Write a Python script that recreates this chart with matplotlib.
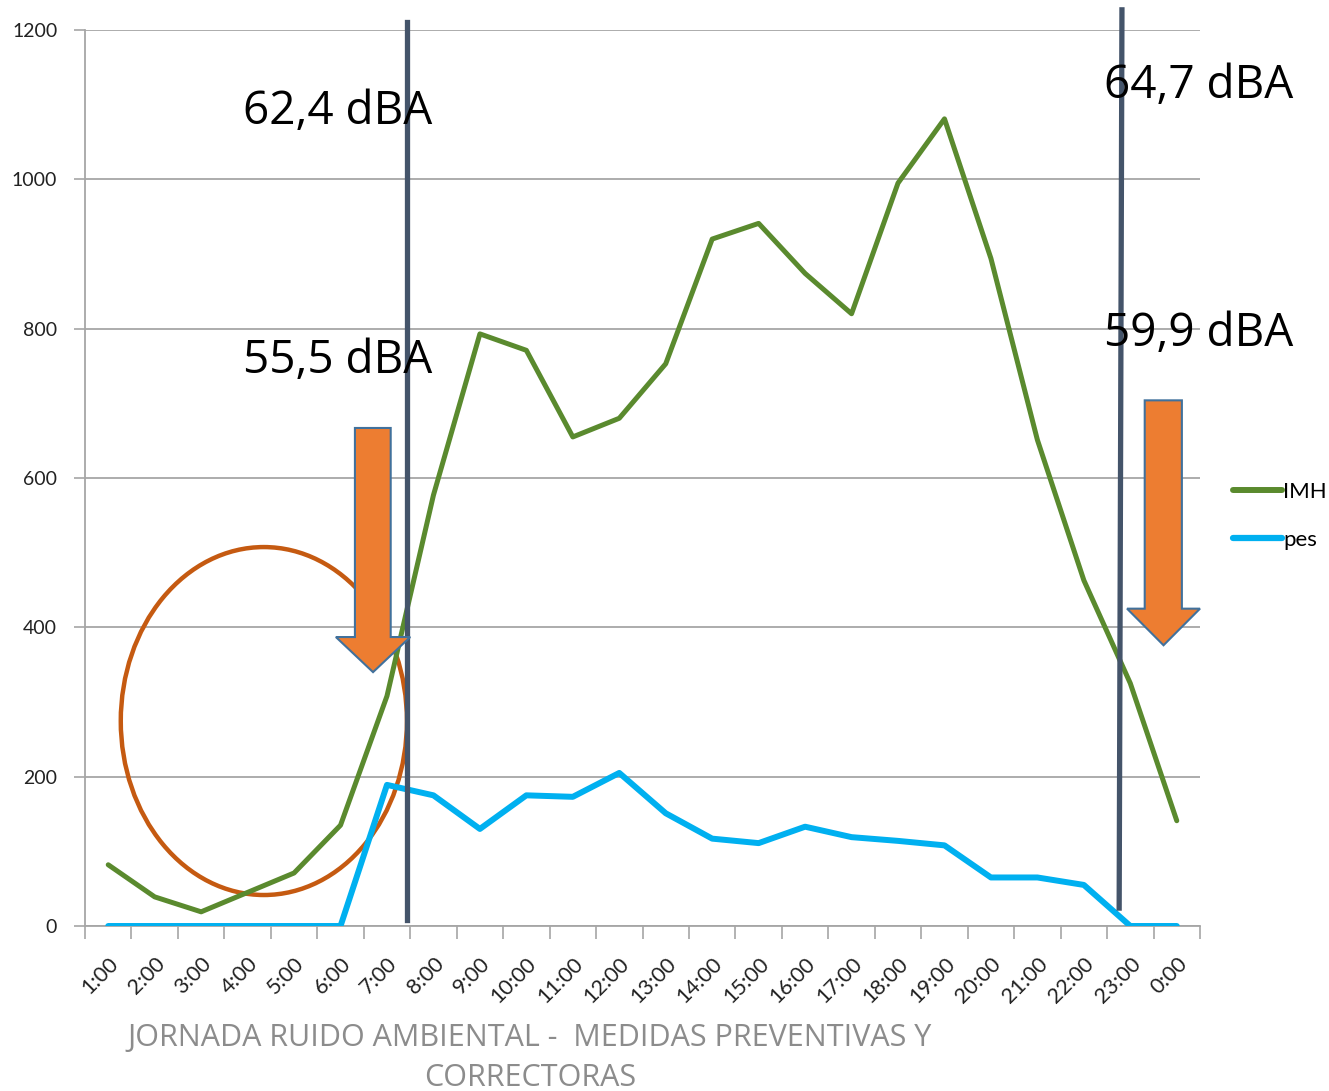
import matplotlib
matplotlib.use("Agg")
import matplotlib.pyplot as plt
from matplotlib.patches import Polygon, Ellipse
from matplotlib.lines import Line2D

hours = ["1:00", "2:00", "3:00", "4:00", "5:00", "6:00", "7:00", "8:00", "9:00",
         "10:00", "11:00", "12:00", "13:00", "14:00", "15:00", "16:00", "17:00",
         "18:00", "19:00", "20:00", "21:00", "22:00", "23:00", "0:00"]
imh = [82, 39, 19, 45, 71, 135, 308, 577, 793, 771, 655, 680, 753, 920, 941,
       874, 820, 995, 1081, 894, 651, 463, 325, 141]
pes = [0, 0, 0, 0, 0, 0, 189, 175, 130, 175, 173, 205, 151, 117, 111, 133,
       119, 114, 108, 65, 65, 55, 0, 0]
y_ticks = [0, 200, 400, 600, 800, 1000, 1200]
level_labels = ["62,4 dBA", "55,5 dBA", "64,7 dBA", "59,9 dBA"]
footer = "JORNADA RUIDO AMBIENTAL -  MEDIDAS PREVENTIVAS Y\nCORRECTORAS"

plt.rcParams['font.family'] = ['Lato', 'DejaVu Sans']

W, H = 1329, 1091
fig = plt.figure(figsize=(W / 100, H / 100), dpi=100)
ax = fig.add_axes([85 / W, 1 - 926 / H, (1200 - 85) / W, (926 - 30) / H])

x = list(range(len(hours)))
green = "#5a8a2e"
blue = "#00b0f0"
grid_c = "#a6a6a6"

ax.plot(x, imh, color=green, lw=3.6, solid_joinstyle="round",
        solid_capstyle="round", zorder=4, label="IMH")
ax.plot(x, pes, color=blue, lw=4.3, solid_joinstyle="round",
        solid_capstyle="round", zorder=4, label="pes")

ax.set_xlim(-0.5, len(hours) - 0.5)
ax.set_ylim(0, 1200)
ax.set_yticks(y_ticks)
ax.set_yticklabels([str(v) for v in y_ticks], fontsize=14, color="#222222")
ax.set_xticks([i - 0.5 for i in range(len(hours) + 1)], minor=False)
ax.set_xticklabels([])
ax.set_xticks(x, minor=True)
ax.set_xticklabels(hours, minor=True, rotation=45, ha="right", va="top",
                   rotation_mode="anchor", fontsize=15.5, color="#222222")
ax.tick_params(axis="x", which="minor", length=0, pad=20)
ax.tick_params(axis="x", which="major", length=9, color=grid_c, width=1.2)
ax.tick_params(axis="y", length=8, color=grid_c, width=1.2, pad=12)

ax.grid(axis="y", color=grid_c, lw=1.3)
ax.set_axisbelow(True)
for side in ["top", "right"]:
    ax.spines[side].set_visible(False)
for side in ["left", "bottom"]:
    ax.spines[side].set_color(grid_c)
    ax.spines[side].set_linewidth(1.3)

# Period separators (day / night boundaries)
sep_c = "#44546a"
ax.plot([6.43, 6.43], [8, 1211], color=sep_c, lw=3.8, clip_on=False, zorder=5)
ax.plot([21.76, 21.82], [24, 1227], color=sep_c, lw=3.8, clip_on=False, zorder=5)

# Noise level labels
txt_kw = dict(fontsize=33, color="black", va="center", ha="left", zorder=6,
              family=["Open Sans", "DejaVu Sans"])
ax.text(2.90, 1090, level_labels[0], **txt_kw)
ax.text(2.90, 757, level_labels[1], **txt_kw)
ax.text(21.43, 1125, level_labels[2], clip_on=False, **txt_kw)
ax.text(21.43, 793, level_labels[3], clip_on=False, **txt_kw)


def down_arrow(x_l, x_r, x_hl, x_hr, y_top, y_base, y_tip):
    xc = (x_hl + x_hr) / 2
    pts = [(x_l, y_top), (x_r, y_top), (x_r, y_base), (x_hr, y_base),
           (xc, y_tip), (x_hl, y_base), (x_l, y_base)]
    ax.add_patch(Polygon(pts, closed=True, facecolor="#ed7d31",
                         edgecolor="#41719c", lw=1.5, zorder=6, clip_on=False))


down_arrow(5.31, 6.08, 4.90, 6.50, 667, 387, 340)
down_arrow(22.31, 23.11, 21.93, 23.50, 704, 425, 376)

# Highlight of the night hours
ax.add_patch(Ellipse((3.35, 274.5), 6.16, 466, fill=False, edgecolor="#c55a11",
                     lw=3.2, zorder=3, clip_on=False))

handles = [Line2D([], [], color=green, lw=4.3, solid_capstyle="round"),
           Line2D([], [], color=blue, lw=4.5, solid_capstyle="round")]
fig.legend(handles, ["IMH", "pes"], loc="center left",
           bbox_to_anchor=(1233 / W, 1 - 516 / H), frameon=False, fontsize=16,
           handlelength=2.2, handletextpad=0.05, labelspacing=1.25, borderpad=0,
           borderaxespad=0)

fig.text(530 / W, 1 - 1058 / H, footer, ha="center", va="center",
         fontsize=22, color="#8c8c8c", linespacing=1.45,
         family=["Open Sans", "DejaVu Sans"])

fig.savefig("out.png", dpi=100)
